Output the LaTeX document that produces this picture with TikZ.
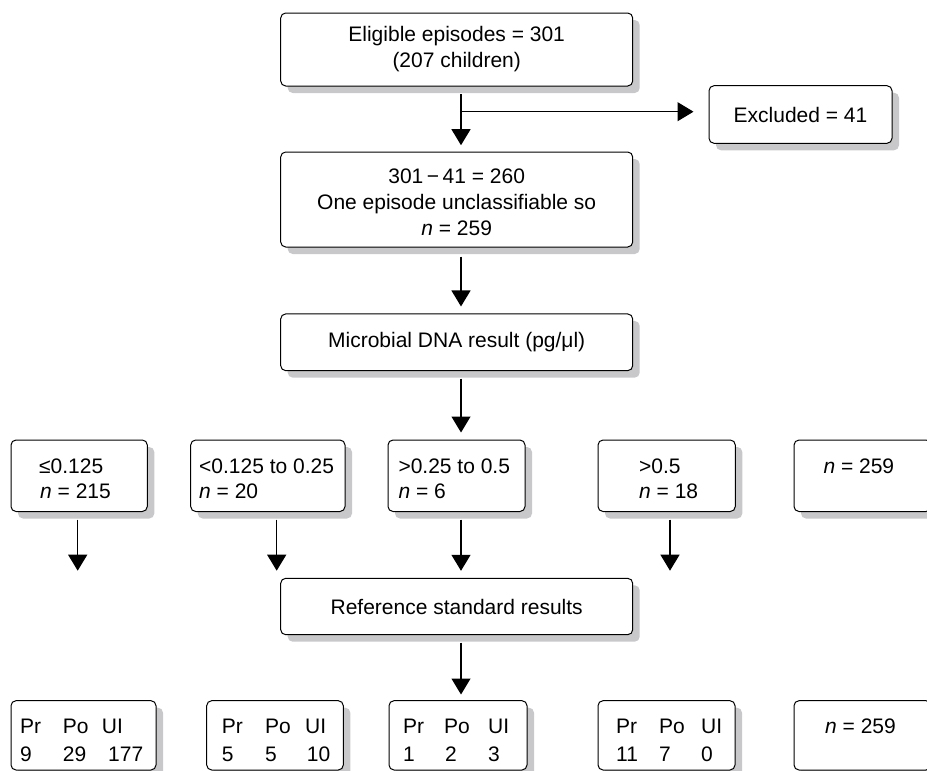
\documentclass[tikz,border=0pt]{standalone}
\usepackage{fontspec}
\setmainfont{Liberation Sans}
\usetikzlibrary{arrows.meta}
\definecolor{shd}{RGB}{200,200,202}
\begin{document}
\begin{tikzpicture}[x=1pt,y=-1pt,
  font=\fontsize{21pt}{26pt}\selectfont,
  box/.style={draw=black, line width=1pt, rounded corners=5pt, fill=white, inner sep=0pt, align=center},
  shadowbox/.style={fill=shd, draw=none, rounded corners=5pt},
  txt/.style={inner sep=0pt, anchor=base west},
  arr/.style={line width=1.2pt, -{Triangle[width=19pt,length=16pt]}, shorten <=7.5pt, shorten >=7pt}]
\useasboundingbox (0,0) rectangle (927,771);
\begin{scope}
\clip (0,0) rectangle (927,771);
% shadows (offset 7 right, 7 down)
\fill[shadowbox] (287.7,20) rectangle (639.7,93);
\fill[shadowbox] (716,92.7) rectangle (899,150.3);
\fill[shadowbox] (287.7,159) rectangle (639.7,254);
\fill[shadowbox] (287.7,320.95) rectangle (639.7,377.65);
\fill[shadowbox] (18,447) rectangle (154.3,518.5);
\fill[shadowbox] (197.7,447) rectangle (352,518.5);
\fill[shadowbox] (395,447) rectangle (532,518.5);
\fill[shadowbox] (605,447) rectangle (742.3,518.5);
\fill[shadowbox] (801,447) rectangle (938,518.5);
\fill[shadowbox] (287.7,585.3) rectangle (639.7,641.7);
\fill[shadowbox] (18,707.7) rectangle (163,777);
\fill[shadowbox] (213.7,707.7) rectangle (350.3,777);
\fill[shadowbox] (396,707.7) rectangle (534,777);
\fill[shadowbox] (605,707.7) rectangle (742,777);
\fill[shadowbox] (801,707.7) rectangle (938,777);
% main column
\node[box, minimum width=352pt, minimum height=73pt] (top) at (456.7,49.5) {Eligible episodes = 301\\(207 children)};
\node[box, minimum width=183pt, minimum height=57.6pt] (excl) at (800.5,114.5) {Excluded = 41};
\node[box, minimum width=352pt, minimum height=95pt] (mid) at (456.7,199.5) {\rule{0pt}{20pt}301\,−\,41 = 260\\One episode unclassifiable so\\\textit{n} = 259};
\node[box, minimum width=352pt, minimum height=56.7pt] (micro) at (456.7,342.3) {Microbial DNA result (pg/μl)};
% row of categories
\node[box, minimum width=136.3pt, minimum height=71.5pt] (r1) at (79.15,475.75) {};
\node[box, minimum width=154.3pt, minimum height=71.5pt] (r2) at (267.85,475.75) {};
\node[box, minimum width=137pt, minimum height=71.5pt] (r3) at (456.5,475.75) {};
\node[box, minimum width=137.3pt, minimum height=71.5pt] (r4) at (666.65,475.75) {};
\node[box, minimum width=137pt, minimum height=71.5pt] (r5) at (862.5,475.75) {};
\node[txt] (r1a) at (39,473.3) {≤0.125};
\node[txt] (r1b) at (40,498.3) {\textit{n} = 215};
\node[txt] (r2a) at (199,473.3) {<0.125 to 0.25};
\node[txt] (r2b) at (199,498.3) {\textit{n} = 20};
\node[txt] (r3a) at (398.3,473.3) {>0.25 to 0.5};
\node[txt] (r3b) at (398.3,498.3) {\textit{n} = 6};
\node[txt] (r4a) at (639,473.3) {>0.5};
\node[txt] (r4b) at (639,498.3) {\textit{n} = 18};
\node[txt] (r5a) at (823.3,473.3) {\textit{n} = 259};
% reference standard
\node[box, minimum width=352pt, minimum height=56.4pt] (ref) at (456.7,606.5) {Reference standard results};
% bottom row
\node[box, minimum width=145pt, minimum height=69.3pt] (b1) at (83.5,735.35) {};
\node[box, minimum width=136.6pt, minimum height=69.3pt] (b2) at (275,735.35) {};
\node[box, minimum width=138pt, minimum height=69.3pt] (b3) at (458,735.35) {};
\node[box, minimum width=137pt, minimum height=69.3pt] (b4) at (666.5,735.35) {};
\node[box, minimum width=137pt, minimum height=69.3pt] (b5) at (862.5,735.35) {};
\node[txt] (b1a) at (20,733.3) {\makebox[42.7pt][l]{Pr}\makebox[39pt][l]{Po}UI};
\node[txt] (b1b) at (20,761.7) {\makebox[42.7pt][l]{9}\makebox[45.3pt][l]{29}177};
\node[txt] (b2a) at (221.7,733.3) {\makebox[43.3pt][l]{Pr}\makebox[40pt][l]{Po}UI};
\node[txt] (b2b) at (221.7,761.7) {\makebox[43.3pt][l]{5}\makebox[41.7pt][l]{5}10};
\node[txt] (b3a) at (403,733.3) {\makebox[41pt][l]{Pr}\makebox[44pt][l]{Po}UI};
\node[txt] (b3b) at (403,761.7) {\makebox[42pt][l]{1}\makebox[43pt][l]{2}3};
\node[txt] (b4a) at (616,733.3) {\makebox[43pt][l]{Pr}\makebox[42pt][l]{Po}UI};
\node[txt] (b4b) at (616,761.7) {\makebox[43pt][l]{11}\makebox[42pt][l]{7}0};
\node[txt] (b5a) at (825,733.3) {\textit{n} = 259};
% connectors
\coordinate (cx) at (461,0);
\coordinate (j) at (461,111.7);
\coordinate (e1) at (77.7,570.7);
\coordinate (e2) at (276.7,570.7);
\coordinate (e4) at (670,570.7);
\draw[arr, shorten >=6.3pt] (top.south -| cx) -- (mid.north -| cx);
\draw[arr, shorten <=0pt, shorten >=15pt] (j) -- (j -| excl.west);
\draw[arr, shorten <=9pt] (mid.south -| cx) -- (micro.north -| cx);
\draw[arr] (micro.south -| cx) -- (r3.north -| cx);
\draw[arr, shorten >=0pt] (r1.south -| e1) -- (e1);
\draw[arr, shorten >=0pt] (r2.south -| e2) -- (e2);
\draw[arr] (r3.south -| cx) -- (ref.north -| cx);
\draw[arr, shorten >=0pt] (r4.south -| e4) -- (e4);
\draw[arr, shorten >=5.7pt] (ref.south -| cx) -- (b3.north -| cx);
\end{scope}
\end{tikzpicture}
\end{document}
